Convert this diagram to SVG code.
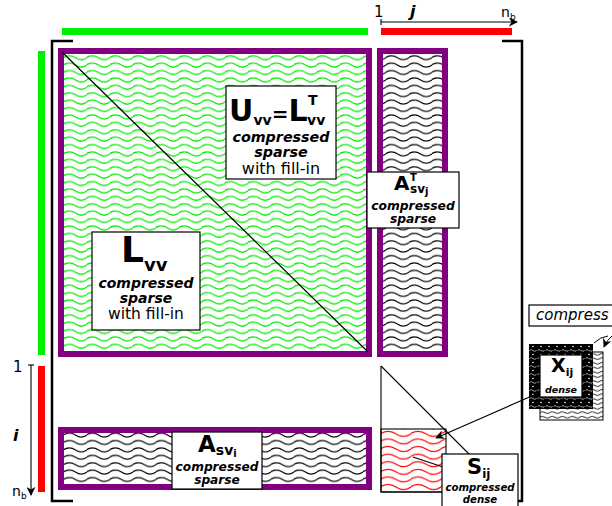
<svg xmlns="http://www.w3.org/2000/svg" width="612" height="506" viewBox="0 0 612 506">
<style>
.t{font-family:"DejaVu Sans","Liberation Sans",sans-serif;fill:#000}
.m{font-family:"DejaVu Sans","Liberation Sans",sans-serif;font-weight:bold;fill:#000}
.bi{font-weight:bold;font-style:italic}
.it{font-style:italic}
.box{fill:#fff;stroke:#000;stroke-width:1.2}
.pur{stroke:#800080;stroke-width:6}
.thin{fill:none;stroke:#000;stroke-width:1.1}
.brk{fill:none;stroke:#000;stroke-width:2.5}
</style>
<defs>
<pattern id="wg" width="23" height="7.4" patternUnits="userSpaceOnUse" x="64" y="54"><path d="M-1 3.7 Q5.75 -0.3 11.5 3.7 T23 3.7 T34.5 3.7" fill="none" stroke="#00ee00" stroke-width="1.3"/></pattern>
<pattern id="wk" width="23" height="7.4" patternUnits="userSpaceOnUse" x="64" y="54"><path d="M-1 3.7 Q5.75 -0.3 11.5 3.7 T23 3.7 T34.5 3.7" fill="none" stroke="#000" stroke-width="1.2"/></pattern>
<pattern id="wr" width="30" height="7.6" patternUnits="userSpaceOnUse" x="381" y="430"><path d="M-1 3.8 Q7.5 -1.2 15 3.8 T30 3.8 T45 3.8" fill="none" stroke="#ff0000" stroke-width="1.3"/></pattern>
<pattern id="ws" width="10" height="4.5" patternUnits="userSpaceOnUse" x="540" y="352"><path d="M-1 2.2 Q2.5 0.4 5 2.2 T10 2.2 T15 2.2" fill="none" stroke="#000" stroke-width="0.9"/></pattern>
<pattern id="wd" width="8" height="8" patternUnits="userSpaceOnUse" x="529" y="344"><rect width="8" height="8" fill="#000"/><circle cx="4" cy="2.5" r="0.8" fill="#fff"/><path d="M0.5 6.5 Q2.25 4.8 4 6.5 T7.5 6.5" fill="none" stroke="#fff" stroke-width="0.6"/></pattern>
<marker id="ah" viewBox="0 0 10 10" refX="9" refY="5" markerWidth="9" markerHeight="9" orient="auto" markerUnits="userSpaceOnUse"><path d="M0,0 L10,5 L0,10 L3,5 z" fill="#000"/></marker>
</defs>

<g id="bars">
<rect x="62" y="28" width="306" height="7" fill="#00ee00"/>
<rect x="381" y="28" width="131" height="7" fill="#ff0000"/>
<rect x="38" y="51" width="7" height="304" fill="#00ee00"/>
<rect x="38" y="366" width="7" height="126" fill="#ff0000"/>
</g>

<g id="axis-j">
<text class="t" x="374" y="17" font-size="15">1</text>
<text class="t bi" x="410" y="17" font-size="16">j</text>
<text class="t" x="501" y="17" font-size="14">n<tspan font-size="9" dy="3">b</tspan></text>
</g>
<g id="axis-i">
<text class="t" x="13" y="372" font-size="15">1</text>
<text class="t bi" x="13" y="441" font-size="16">i</text>
<text class="t" x="12" y="496" font-size="14">n<tspan font-size="9" dy="3">b</tspan></text>
</g>

<g id="bracket">
<path class="brk" d="M73 41 H52 V501 H73"/>
<path class="brk" d="M502 41 H522 V501 H502"/>
</g>

<g id="Lvv-block">
<rect x="61" y="51" width="308" height="303" fill="url(#wg)" class="pur"/>
<line x1="62" y1="52" x2="368" y2="352" stroke="#000" stroke-width="1.2"/>
</g>

<g id="ATsvj-block">
<rect x="380" y="51" width="65" height="303" fill="url(#wk)" class="pur"/>
</g>

<g id="Asvi-block">
<rect x="61" y="430" width="308" height="57" fill="url(#wk)" class="pur"/>
</g>

<g id="Sij-block">
<rect x="381" y="429" width="65" height="63" fill="url(#wr)" stroke="#000" stroke-width="1.1"/>
<path class="thin" d="M381 366 V492 H446"/>
<line x1="381" y1="366" x2="507" y2="492" stroke="#000" stroke-width="1.1"/>
</g>

<g id="Xij-block">
<rect x="540" y="352" width="63" height="68" fill="#fff"/>
<rect x="540" y="352" width="63" height="68" fill="url(#ws)" stroke="#000" stroke-width="1"/>
<rect x="529" y="344" width="64" height="65" fill="url(#wd)"/>
<rect x="540" y="355" width="42" height="42" class="box" stroke-width="1"/>
<text class="m" x="551" y="372" font-size="19">X<tspan font-size="11" dy="4">ij</tspan></text>
<text class="t bi" x="561" y="393" font-size="9.5" text-anchor="middle">dense</text>
</g>

<g id="connectors">
<line x1="381" y1="22" x2="517" y2="22" stroke="#000" stroke-width="1.1" marker-end="url(#ah)"/>
<line x1="381" y1="19" x2="381" y2="25" stroke="#000" stroke-width="1.1"/>
<line x1="31" y1="365" x2="31" y2="495" stroke="#000" stroke-width="1.1" marker-end="url(#ah)"/>
<line x1="28" y1="365" x2="34" y2="365" stroke="#000" stroke-width="1.1"/>
<line x1="534" y1="395" x2="436" y2="438" stroke="#000" stroke-width="1.1" marker-end="url(#ah)"/>
<line x1="413" y1="457" x2="443" y2="467" stroke="#000" stroke-width="1.1"/>
<path d="M594 343 Q600 337 608 336" fill="none" stroke="#000" stroke-width="1"/>
<path d="M612 336 Q607 340 604 347" fill="none" stroke="#000" stroke-width="1" marker-end="url(#ah)"/>
</g>

<g id="Uvv-label">
<rect x="226" y="86" width="110" height="93" class="box"/>
<text class="m" x="229" y="121" font-size="30">U<tspan font-size="14" dy="4">vv</tspan><tspan font-size="20" dy="-4">=</tspan>L<tspan font-size="14" x="308" dy="-16">T</tspan><tspan font-size="14" x="307" dy="20">vv</tspan></text>
<text class="t bi" x="281" y="141.5" font-size="14.3" text-anchor="middle">compressed</text>
<text class="t bi" x="281" y="157" font-size="14.3" text-anchor="middle">sparse</text>
<text class="t" x="281" y="174" font-size="16" text-anchor="middle">with fill-in</text>
</g>

<g id="Lvv-label">
<rect x="92" y="232" width="108" height="98" class="box"/>
<text class="m" x="121" y="262" font-size="36">L<tspan font-size="18" dy="9">vv</tspan></text>
<text class="t bi" x="146" y="288" font-size="14" text-anchor="middle">compressed</text>
<text class="t bi" x="146" y="303" font-size="14" text-anchor="middle">sparse</text>
<text class="t" x="146" y="319" font-size="15.5" text-anchor="middle">with fill-in</text>
</g>

<g id="ATsvj-label">
<rect x="367" y="172" width="92" height="56" class="box"/>
<text class="m" x="394" y="190" font-size="20">A<tspan font-size="10" x="410" dy="-9">T</tspan><tspan font-size="12" x="410" dy="12">sv</tspan><tspan font-size="10" dy="2">j</tspan></text>
<text class="t bi" x="413" y="210" font-size="12.3" text-anchor="middle">compressed</text>
<text class="t bi" x="413" y="223" font-size="12.3" text-anchor="middle">sparse</text>
</g>

<g id="Asvi-label">
<rect x="172" y="432" width="90" height="57" class="box"/>
<text class="m" x="198" y="452" font-size="23">A<tspan font-size="14" dy="3">sv</tspan><tspan font-size="10" dy="2">i</tspan></text>
<text class="t bi" x="217" y="471" font-size="12.2" text-anchor="middle">compressed</text>
<text class="t bi" x="217" y="484" font-size="12.2" text-anchor="middle">sparse</text>
</g>

<g id="Sij-label">
<rect x="442" y="454" width="76" height="60" class="box"/>
<text class="m" x="467" y="474" font-size="21">S<tspan font-size="12" dy="4">ij</tspan></text>
<text class="t bi" x="480" y="491" font-size="10.2" text-anchor="middle">compressed</text>
<text class="t bi" x="480" y="503" font-size="10.2" text-anchor="middle">dense</text>
</g>

<g id="compress-label">
<rect x="529" y="305" width="100" height="21" class="box"/>
<text class="t it" x="536" y="320" font-size="15">compress</text>
</g>
</svg>
